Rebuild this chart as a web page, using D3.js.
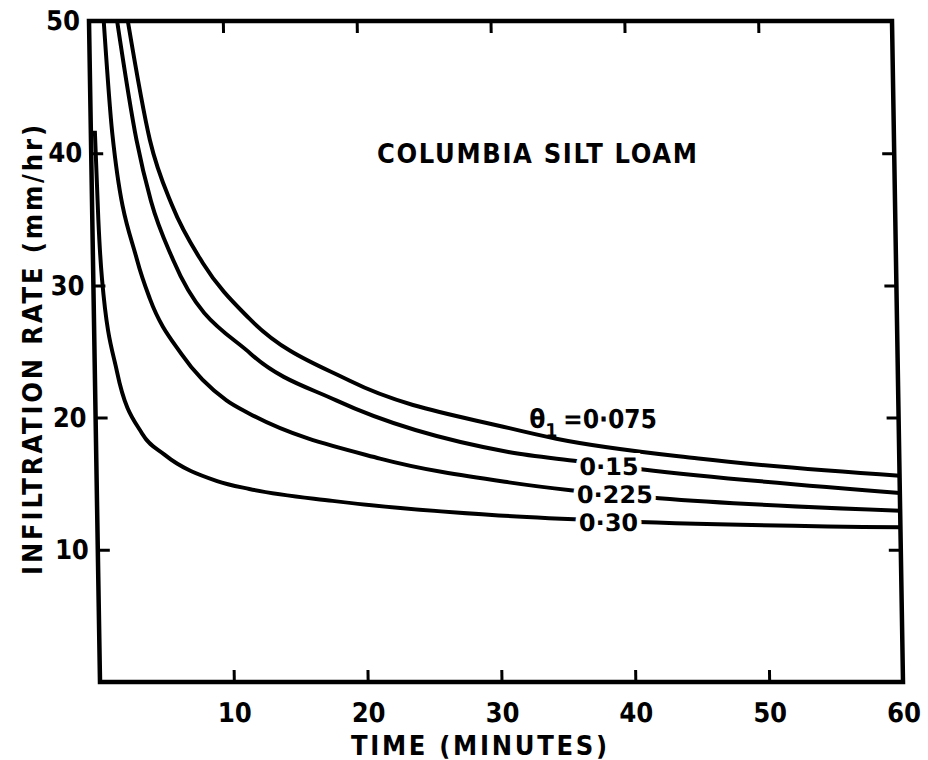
<!DOCTYPE html>
<html>
<head>
<meta charset="utf-8">
<script src="https://cdn.jsdelivr.net/npm/d3@7/dist/d3.min.js"></script>
<style>
body{margin:0;background:#fff;}
text{font-family:"DejaVu Sans Condensed","DejaVu Sans",sans-serif;font-weight:bold;fill:#000;}
text.lbl{font-family:"DejaVu Sans",sans-serif;}
</style>
</head>
<body>
<div id="plot"></div>
<script>
//time (minutes) and infiltration rate (mm/hr)
var t075 = [2.9, 4.4, 6.0, 8.2, 11.6, 19.0, 30.9, 34.4, 45, 60],
	r075 = [50, 41, 36.0, 31.7, 27.5, 22.8, 19.2, 18.4, 16.9, 15.6];
var t15 = [2.1, 3.4, 4.4, 6.0, 11.7, 18.0, 30.8, 36, 40.7, 60],
	r15 = [50, 41, 36.4, 31.9, 24.8, 21.3, 17.4, 16.7, 16.1, 14.3];
var t225 = [1.1, 1.6, 3.3, 4.2, 6.5, 9.8, 11.5, 21.2, 30.8, 35.4, 42, 60],
	r225 = [50, 41.5, 31.9, 29.0, 24.8, 21.3, 20.3, 16.9, 15.1, 14.5, 13.9, 12.95];
var t30 = [0.3, 0.45, 0.65, 1.65, 3.45, 5.1, 9.0, 11.4, 17.6, 30, 38, 60],
	r30 = [41.7, 35, 30.5, 23.5, 18.8, 17.2, 15.2, 14.6, 13.7, 12.6, 12.2, 11.7];

var moistures = ['0·075', '0·15', '0·225', '0·30'];
var xTicks = [10, 20, 30, 40, 50, 60],
	yTicks = [10, 20, 30, 40, 50];

var series = [t075, t15, t225, t30].map(function(t, i){
	var r = [r075, r15, r225, r30][i];
	return {label: moistures[i], pts: t.map(function(d, j){ return [d, r[j]]; })};
});

var W = 928, H = 760,
	m = {l:100, b:682},
	width = 803,
	height = 661;

var svg = d3.select('#plot')
	.append('svg')
	.attr('width', W)
	.attr('height', H);

var x = d3.scaleLinear().domain([0, 60]).range([0, width]);
var y = d3.scaleLinear().domain([0, 50]).range([0, -height]);

//the scanned figure is sheared: top edge sits ~11px left of the bottom one
var shear = Math.atan(11 / height) * 180 / Math.PI;
var plot = svg.append('g')
	.attr('transform', 'translate(' + m.l + ',' + m.b + ') skewX(' + shear + ')');

plot.append('clipPath').attr('id', 'clip')
	.append('rect')
	.attr('x', 0).attr('y', -height)
	.attr('width', width).attr('height', height);

//axes, all ticks point inwards
plot.append('g')
	.call(d3.axisBottom(x).tickValues(xTicks).tickSizeInner(-12).tickSizeOuter(0).tickPadding(21));
plot.append('g')
	.call(d3.axisLeft(y).tickValues(yTicks).tickSizeInner(-12).tickSizeOuter(0).tickPadding(9));
plot.append('g').attr('transform', 'translate(0,' + (-height) + ')')
	.call(d3.axisTop(x).tickValues([10, 20, 30, 40, 50]).tickSizeInner(-12).tickSizeOuter(0).tickFormat(''));
plot.append('g').attr('transform', 'translate(' + width + ',0)')
	.call(d3.axisRight(y).tickValues([10, 20, 30, 40]).tickSizeInner(-12).tickSizeOuter(0).tickFormat(''));

plot.selectAll('.domain').remove();
plot.selectAll('.tick line').attr('stroke', '#000').attr('stroke-width', 3);
plot.selectAll('.tick text')
	.style('font-size', '27px')
	.attr('fill', '#000');

plot.append('rect')
	.attr('x', 0).attr('y', -height)
	.attr('width', width).attr('height', height)
	.attr('fill', 'none')
	.attr('stroke', '#000')
	.attr('stroke-width', 4.5);

var line = d3.line()
	.x(function(d){ return x(d[0]); })
	.y(function(d){ return y(d[1]); })
	.curve(d3.curveMonotoneX);

plot.append('g').attr('clip-path', 'url(#clip)')
	.selectAll('path')
	.data(series)
	.enter()
	.append('path')
	.attr('d', function(d){ return line(d.pts); })
	.attr('fill', 'none')
	.attr('stroke', '#000')
	.attr('stroke-width', 4);

//curve labels (the lower three break their line)
var labelAt = [[32.4, 19.2, 'start'], [38.3, 15.66, 'middle'], [38.7, 13.54, 'middle'], [38.2, 11.42, 'middle']];
series.forEach(function(s, i){
	var p = labelAt[i];
	var t = plot.append('text')
		.attr('x', x(p[0]))
		.attr('y', y(p[1]))
		.attr('text-anchor', p[2]);
	if(i === 0){
		t.style('font-size', '26px');
		t.append('tspan').text('θ');
		t.append('tspan').attr('dy', 9).style('font-size', '19px').text('1');
		t.append('tspan').attr('dy', -9).attr('dx', 6).text('=' + s.label);
	} else {
		t.attr('class', 'lbl')
			.style('font-size', '24px')
			.text(s.label)
			.attr('stroke', '#fff')
			.attr('stroke-width', 9)
			.attr('paint-order', 'stroke');
	}
});

svg.append('text')
	.attr('x', 537).attr('y', 163)
	.attr('text-anchor', 'middle')
	.attr('textLength', 320)
	.style('font-size', '27px')
	.text('COLUMBIA  SILT  LOAM');

svg.append('text')
	.attr('x', 479).attr('y', 755)
	.attr('text-anchor', 'middle')
	.attr('textLength', 256)
	.style('font-size', '27px')
	.text('TIME  (MINUTES)');

svg.append('text')
	.attr('transform', 'translate(42,350) rotate(-90)')
	.attr('text-anchor', 'middle')
	.attr('textLength', 450)
	.style('font-size', '27px')
	.text('INFILTRATION  RATE  (mm/hr)');
</script>
</body>
</html>
